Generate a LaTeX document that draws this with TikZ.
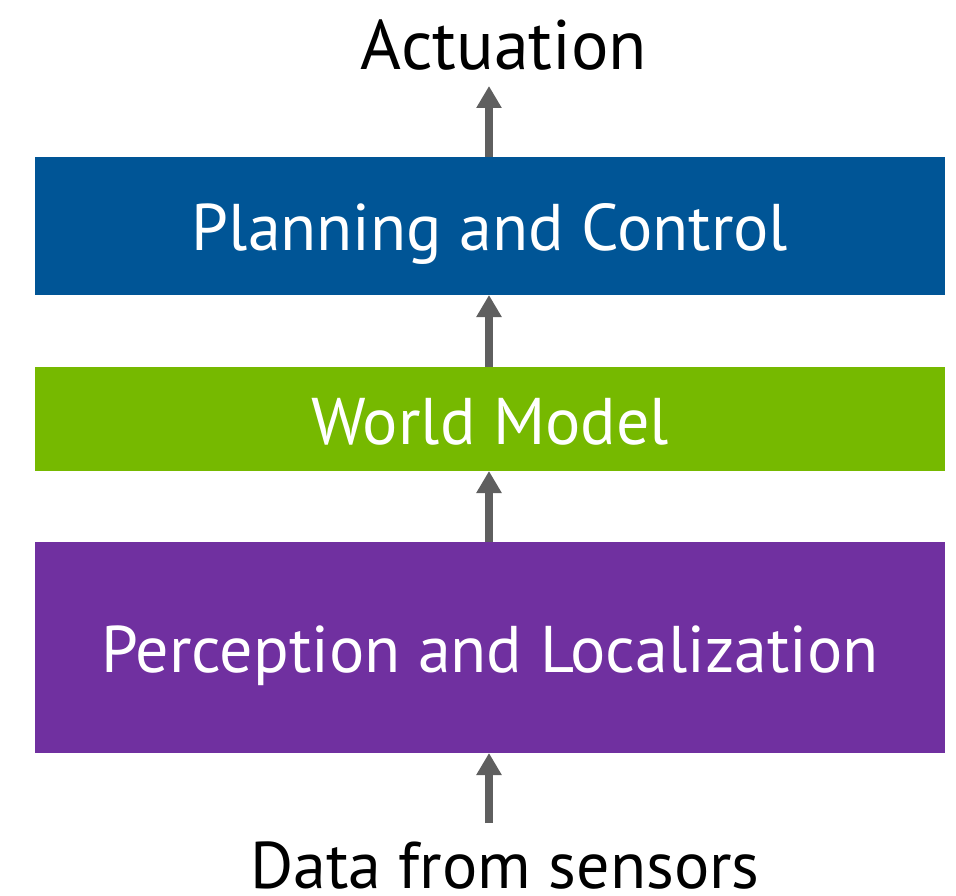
\documentclass[tikz,border=0pt]{standalone}
\usepackage{fontspec}
\setmainfont{PT Sans}
\usetikzlibrary{arrows.meta}
\definecolor{planblue}{HTML}{005596}
\definecolor{nvgreen}{HTML}{76B900}
\definecolor{percpurple}{HTML}{7030A0}
\definecolor{arrowgray}{HTML}{5F5F5F}
\begin{document}
\begin{tikzpicture}[x=1pt,y=-1pt,
  layer/.style={minimum width=910pt,inner sep=0pt,outer sep=0pt,text=white,text height=50pt,text depth=0pt,font=\fontsize{66}{78}\selectfont},
  label/.style={inner sep=0pt,text=black,text depth=0pt,font=\fontsize{66}{78}\selectfont},
  flow/.style={draw=arrowgray,line width=8pt,-{Triangle[width=24pt,length=22pt]}}]
\useasboundingbox (0,0) rectangle (956,896);
\node[layer,fill=planblue,minimum height=138pt] (plan) at (490,226) {Planning and Control};
\node[layer,fill=nvgreen,minimum height=104pt] (world) at (490,419) {World Model};
\node[layer,fill=percpurple,minimum height=211pt] (perc) at (490,647.5) {Perception and Localization};
\node[label,anchor=base,font=\fontsize{70}{84}\selectfont] (act) at (504,70) {Actuation};
\node[label,anchor=base] (data) at (505,888) {Data from sensors};
\coordinate (acttip) at (489,86);
\coordinate (datafoot) at (489,823);
\draw[flow] (plan.north -| acttip) -- (acttip);
\draw[flow] (world.north -| acttip) -- (plan.south -| acttip);
\draw[flow] (perc.north -| acttip) -- (world.south -| acttip);
\draw[flow] (datafoot) -- (perc.south -| acttip);
\end{tikzpicture}
\end{document}
